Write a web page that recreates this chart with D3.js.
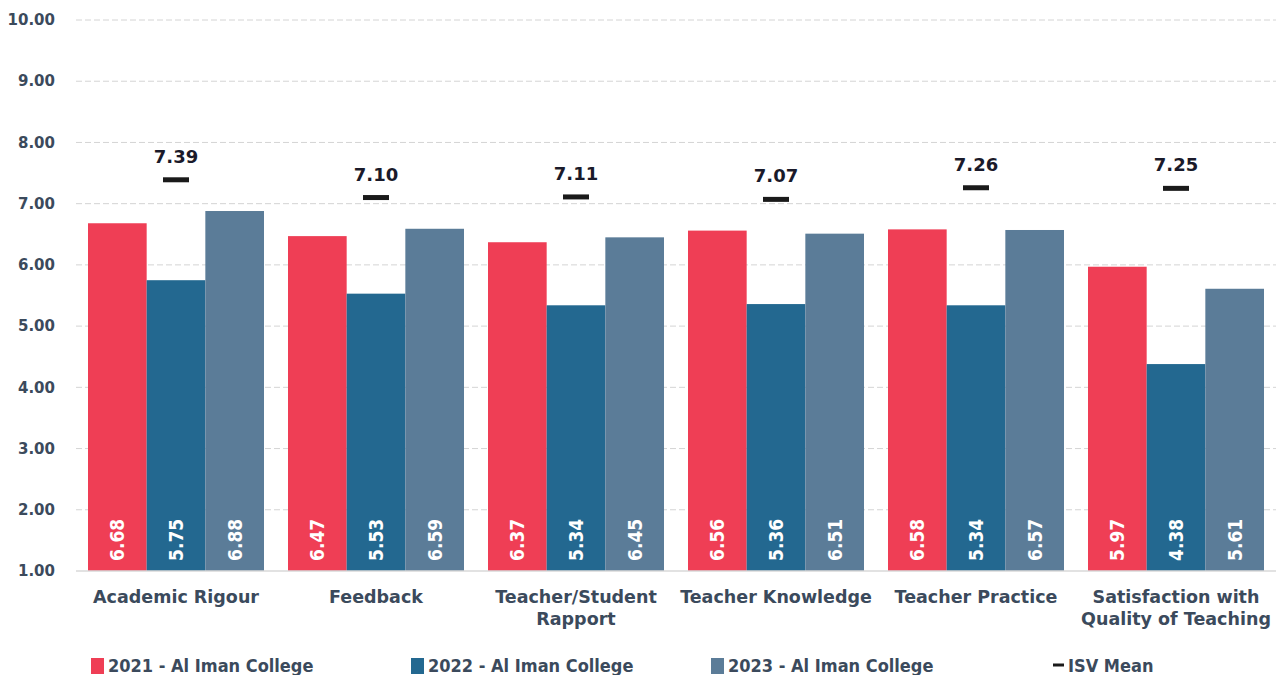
<!DOCTYPE html>
<html>
<head>
<meta charset="utf-8">
<script src="https://cdn.jsdelivr.net/npm/d3@7"></script>
<style>
  body { margin: 0; background: #fff; }
</style>
</head>
<body>
<svg id="chart" width="1287" height="675"></svg>
<script>
const categories = [
  ["Academic Rigour"],
  ["Feedback"],
  ["Teacher/Student", "Rapport"],
  ["Teacher Knowledge"],
  ["Teacher Practice"],
  ["Satisfaction with", "Quality of Teaching"]
]
const seriesNames = ["2021 - Al Iman College", "2022 - Al Iman College", "2023 - Al Iman College"]
const values2021 = [6.68, 6.47, 6.37, 6.56, 6.58, 5.97]
const values2022 = [5.75, 5.53, 5.34, 5.36, 5.34, 4.38]
const values2023 = [6.88, 6.59, 6.45, 6.51, 6.57, 5.61]
const isvMean = [7.39, 7.10, 7.11, 7.07, 7.26, 7.25]
const yTicks = [1, 2, 3, 4, 5, 6, 7, 8, 9, 10]
const colors = ["#ef3e55", "#236890", "#5b7c98"]

const wideFont = "'DejaVu Sans', sans-serif"
const narrowFont = "'DejaVu Sans Condensed', 'Liberation Sans Narrow', sans-serif"

const series = [values2021, values2022, values2023]
const svg = d3.select("#chart")
const margin = {top: 20, right: 11, bottom: 104, left: 76}
const height = 675 - margin.top - margin.bottom

const g = svg.append("g").attr("transform", `translate(${margin.left},${margin.top})`)

const x0 = d3.scaleBand().domain(d3.range(categories.length)).range([0, 1200]).paddingInner(0.12).paddingOuter(0.06)
const x1 = d3.scaleBand().domain(d3.range(series.length)).range([0, x0.bandwidth()])
const y = d3.scaleLinear().domain([1, 10]).range([height, 0])

// grid
g.selectAll(".grid").data(yTicks.slice(1)).enter().append("line")
  .attr("x1", 0).attr("x2", 1200)
  .attr("y1", d => y(d)).attr("y2", d => y(d))
  .attr("stroke", "#d4d4d4").attr("stroke-width", 1).attr("stroke-dasharray", "6,3")

// y labels
g.selectAll(".ylab").data(yTicks).enter().append("text")
  .attr("x", -21).attr("y", d => y(d)).attr("dy", "0.35em")
  .style("font-family", wideFont)
  .attr("text-anchor", "end").attr("font-size", 15).attr("font-weight", "bold")
  .attr("fill", "#3b4a5c").text(d => d.toFixed(2))

// bars
const groups = g.selectAll(".grp").data(categories).enter().append("g")
  .attr("transform", (d, i) => `translate(${x0(i)},0)`)

groups.each(function (cat, i) {
  const grp = d3.select(this)
  series.forEach((s, k) => {
    grp.append("rect")
      .attr("x", x1(k)).attr("width", x1.bandwidth())
      .attr("y", y(s[i])).attr("height", y(1) - y(s[i]))
      .attr("fill", colors[k])
    const cx = x1(k) + x1.bandwidth() / 2
    grp.append("text")
      .attr("transform", `translate(${cx + 7},${y(1) - 10}) rotate(-90)`)
      .style("font-family", narrowFont)
      .attr("font-size", 19).attr("font-weight", "bold").attr("fill", "#fff")
      .text(s[i].toFixed(2))
  })
  const mx = x0.bandwidth() / 2
  grp.append("line")
    .attr("x1", mx - 13).attr("x2", mx + 13)
    .attr("y1", y(isvMean[i])).attr("y2", y(isvMean[i]))
    .attr("stroke", "#1a1a1a").attr("stroke-width", 5)
  grp.append("text")
    .attr("x", mx).attr("y", y(isvMean[i]) - 17)
    .style("font-family", wideFont)
    .attr("text-anchor", "middle").attr("font-size", 18).attr("font-weight", "bold")
    .attr("fill", "#1a1a2a").text(isvMean[i].toFixed(2))
  const lab = grp.append("text")
    .attr("x", mx).attr("y", height + 32)
    .style("font-family", wideFont)
    .attr("text-anchor", "middle").attr("font-size", 17.5).attr("font-weight", "bold")
    .attr("fill", "#3b4a5c")
  cat.forEach((line, j) => {
    lab.append("tspan").attr("x", mx).attr("dy", j === 0 ? 0 : 22).text(line)
  })
})

// baseline
g.append("line").attr("x1", 0).attr("x2", 1200).attr("y1", y(1)).attr("y2", y(1))
  .attr("stroke", "#d9d9d9").attr("stroke-width", 1.5)

// legend
const legendX = [91, 411, 711]
const lg = svg.append("g")
seriesNames.forEach((name, k) => {
  lg.append("rect").attr("x", legendX[k]).attr("y", 658).attr("width", 13).attr("height", 16).attr("fill", colors[k])
  lg.append("text").attr("x", legendX[k] + 17).attr("y", 672)
    .style("font-family", narrowFont)
    .attr("font-size", 18).attr("font-weight", "bold").attr("fill", "#3b4a5c").text(name)
})
lg.append("line").attr("x1", 1053).attr("x2", 1064).attr("y1", 665).attr("y2", 665)
  .attr("stroke", "#1a1a1a").attr("stroke-width", 3)
lg.append("text").attr("x", 1068).attr("y", 672)
  .style("font-family", narrowFont)
  .attr("font-size", 18).attr("font-weight", "bold").attr("fill", "#3b4a5c").text("ISV Mean")
</script>
</body>
</html>
